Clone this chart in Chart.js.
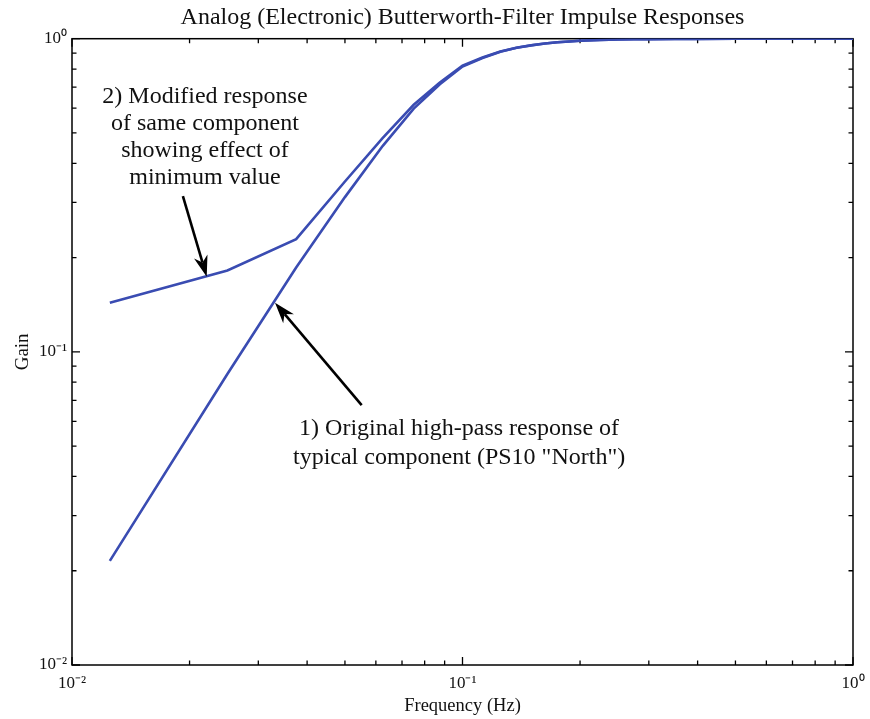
<!DOCTYPE html>
<html>
<head>
<meta charset="utf-8">
<script src="https://cdn.jsdelivr.net/npm/chart.js@4/dist/chart.umd.min.js"></script>
<style>
  html, body { margin: 0; padding: 0; background: #ffffff; }
  #wrap { width: 870px; height: 719px; }
</style>
</head>
<body>
<div id="wrap"><canvas id="c" width="870" height="719"></canvas></div>
<script>
// ---- data ----
const frequencyHz = [0.0125, 0.025, 0.0375, 0.05, 0.0625, 0.075, 0.0875, 0.1, 0.1125, 0.125, 0.1375, 0.15, 0.1625, 0.175, 0.1875, 0.2, 0.225, 0.25, 0.275, 0.3, 0.35, 0.4, 0.5, 0.6, 0.7, 0.8, 0.9, 1.0];
const originalGain = [0.0215, 0.085, 0.186, 0.312, 0.455, 0.598, 0.715, 0.815, 0.868, 0.908, 0.935, 0.952, 0.965, 0.974, 0.980, 0.985, 0.991, 0.994, 0.996, 0.997, 0.998, 0.999, 1, 1, 1, 1, 1, 1];
const modifiedGain = [0.1436, 0.182, 0.229, 0.35, 0.482, 0.615, 0.725, 0.82, 0.871, 0.910, 0.936, 0.953, 0.965, 0.974, 0.980, 0.985, 0.991, 0.994, 0.996, 0.997, 0.998, 0.999, 1, 1, 1, 1, 1, 1];
const decadeValues = [0.01, 0.1, 1];
const decadeLabels = ['10\u207B\u00B2', '10\u207B\u00B9', '10\u2070'];
const chartTitle = 'Analog (Electronic) Butterworth-Filter Impulse Responses';
const xTitle = 'Frequency (Hz)';
const yTitle = 'Gain';
const noteModified = ['2) Modified response', 'of same component', 'showing effect of', 'minimum value'];
const noteOriginal = ['1) Original high-pass response of', 'typical component (PS10 "North")'];
// annotation anchors in data coordinates [frequency, gain]
const noteModifiedAt = [0.0219, 0.651];
const noteOriginalAt = [0.098, 0.0567];
const arrowModified = { from: [0.01923, 0.3144], to: [0.02213, 0.1738] };
const arrowOriginal = { from: [0.05518, 0.0676], to: [0.0331, 0.1435] };

const LINE_BLUE = '#3a4cb2';
const SERIF = '"Liberation Serif", "Times New Roman", serif';

function logTicks() {
  const out = [];
  for (let e = -2; e < 0; e++) {
    const d = Math.pow(10, e);
    for (let k = 1; k <= 9; k++) out.push(parseFloat((k * d).toPrecision(6)));
  }
  out.push(1);
  return out;
}
function isDecade(v) {
  return decadeValues.some(d => Math.abs(d - v) / d < 1e-6);
}
function labelFor(v) {
  const i = decadeValues.findIndex(d => Math.abs(d - v) / d < 1e-6);
  return i >= 0 ? decadeLabels[i] : '';
}

const framePlugin = {
  id: 'frame',
  beforeDatasetsDraw(chart) {
    const { ctx, chartArea: a, scales: { x, y } } = chart;
    ctx.save();
    ctx.strokeStyle = '#000';
    ctx.lineWidth = 1.5;
    ctx.strokeRect(a.left, a.top, a.right - a.left, a.bottom - a.top);
    ctx.lineWidth = 1.3;
    ctx.beginPath();
    x.ticks.forEach(t => {
      const px = x.getPixelForValue(t.value);
      const L = isDecade(t.value) ? 8 : 4.5;
      ctx.moveTo(px, a.bottom); ctx.lineTo(px, a.bottom - L);
      ctx.moveTo(px, a.top); ctx.lineTo(px, a.top + L);
    });
    y.ticks.forEach(t => {
      const py = y.getPixelForValue(t.value);
      const L = isDecade(t.value) ? 8 : 4.5;
      ctx.moveTo(a.left, py); ctx.lineTo(a.left + L, py);
      ctx.moveTo(a.right, py); ctx.lineTo(a.right - L, py);
    });
    ctx.stroke();
    ctx.restore();
  },
  afterDatasetsDraw(chart) {
    const { ctx, scales: { x, y } } = chart;
    const P = p => [x.getPixelForValue(p[0]), y.getPixelForValue(p[1])];
    function arrow(spec) {
      const [x0, y0] = P(spec.from);
      const [x1, y1] = P(spec.to);
      const ang = Math.atan2(y1 - y0, x1 - x0);
      const hl = 21, hw = 7;
      const c = Math.cos(ang), s = Math.sin(ang);
      const bx = x1 - hl * c, by = y1 - hl * s;
      ctx.save();
      ctx.strokeStyle = '#000';
      ctx.fillStyle = '#000';
      ctx.lineWidth = 2.6;
      ctx.beginPath();
      ctx.moveTo(x0, y0); ctx.lineTo(bx + 6 * c, by + 6 * s);
      ctx.stroke();
      ctx.beginPath();
      ctx.moveTo(x1, y1);
      ctx.lineTo(bx + hw * s, by - hw * c);
      ctx.lineTo(bx + 0.3 * hl * c, by + 0.3 * hl * s);
      ctx.lineTo(bx - hw * s, by + hw * c);
      ctx.closePath();
      ctx.fill();
      ctx.restore();
    }
    function note(lines, at, lh) {
      const [cx, cy] = P(at);
      ctx.save();
      ctx.fillStyle = '#111';
      ctx.font = '24px ' + SERIF;
      ctx.textAlign = 'center';
      ctx.textBaseline = 'middle';
      lines.forEach((s, i) => ctx.fillText(s, cx, cy + i * lh));
      ctx.restore();
    }
    arrow(arrowModified);
    arrow(arrowOriginal);
    note(noteModified, noteModifiedAt, 26.8);
    note(noteOriginal, noteOriginalAt, 28.5);
  }
};

const ctx = document.getElementById('c').getContext('2d');
new Chart(ctx, {
  type: 'line',
  data: {
    datasets: [
      {
        label: 'Original',
        data: frequencyHz.map((f, i) => ({ x: f, y: originalGain[i] })),
        borderColor: LINE_BLUE,
        borderWidth: 2.6,
        pointRadius: 0,
        fill: false,
        tension: 0
      },
      {
        label: 'Modified',
        data: frequencyHz.map((f, i) => ({ x: f, y: modifiedGain[i] })),
        borderColor: LINE_BLUE,
        borderWidth: 2.6,
        pointRadius: 0,
        fill: false,
        tension: 0
      }
    ]
  },
  options: {
    responsive: false,
    animation: false,
    devicePixelRatio: 1,
    layout: { padding: { left: 0, right: 17, top: 0, bottom: 0 } },
    plugins: {
      legend: { display: false },
      tooltip: { enabled: false },
      title: {
        display: true,
        text: chartTitle,
        fullSize: false,
        color: '#111',
        font: { family: SERIF, size: 24, weight: 'normal' },
        padding: { top: 3, bottom: 6.9 }
      }
    },
    scales: {
      x: {
        type: 'logarithmic',
        position: 'bottom',
        min: 0.01,
        max: 1,
        afterBuildTicks: s => { s.ticks = logTicks().map(v => ({ value: v })); },
        afterFit: s => { s.height = 54; s.paddingRight = 0; s.paddingLeft = 0; },
        grid: { display: false, drawTicks: false },
        border: { display: false },
        ticks: {
          autoSkip: false,
          maxRotation: 0,
          padding: 8,
          color: '#111',
          font: { family: SERIF, size: 17 },
          callback: v => labelFor(v)
        },
        title: {
          display: true,
          text: xTitle,
          color: '#111',
          font: { family: SERIF, size: 18.5 },
          padding: { top: 0, bottom: 2 }
        }
      },
      y: {
        type: 'logarithmic',
        position: 'left',
        min: 0.01,
        max: 1,
        afterBuildTicks: s => { s.ticks = logTicks().map(v => ({ value: v })); },
        afterFit: s => { s.width = 72; },
        grid: { display: false, drawTicks: false },
        border: { display: false },
        ticks: {
          autoSkip: false,
          padding: 5,
          color: '#111',
          font: { family: SERIF, size: 17 },
          callback: v => labelFor(v)
        },
        title: {
          display: true,
          text: yTitle,
          color: '#111',
          font: { family: SERIF, size: 19 },
          padding: { top: 12, bottom: 0 }
        }
      }
    }
  },
  plugins: [framePlugin]
});
</script>
</body>
</html>
